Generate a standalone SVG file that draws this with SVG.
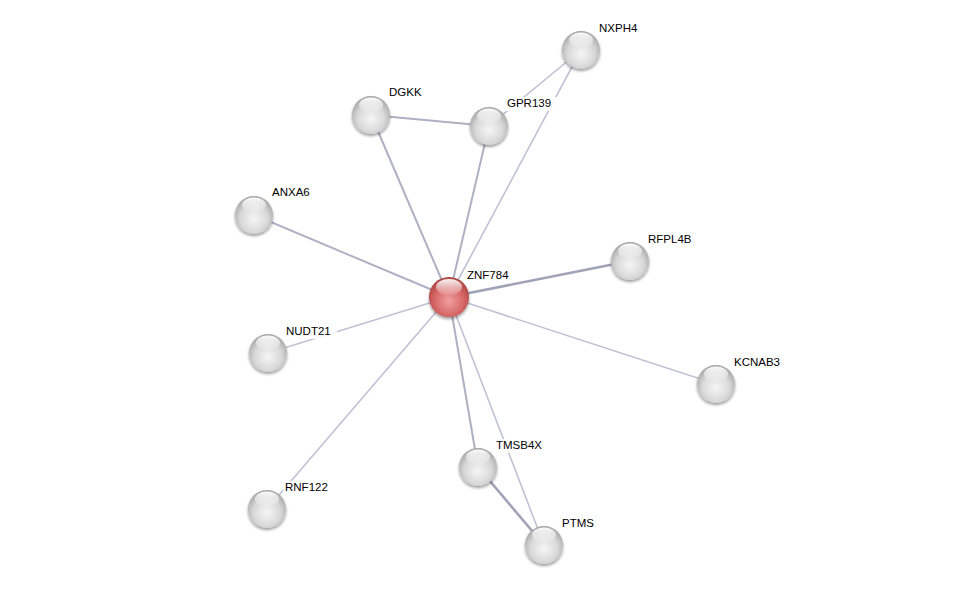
<svg xmlns="http://www.w3.org/2000/svg" width="975" height="591" viewBox="0 0 975 591">
<defs>
<radialGradient id="gGray" cx="0.5" cy="0.6" r="0.6">
<stop offset="0" stop-color="#f6f6f6"/>
<stop offset="0.6" stop-color="#d8d8d8"/>
<stop offset="1" stop-color="#a4a4a4"/>
</radialGradient>
<radialGradient id="gRed" cx="0.5" cy="0.6" r="0.6">
<stop offset="0" stop-color="#f0a0a0"/>
<stop offset="0.6" stop-color="#d86868"/>
<stop offset="1" stop-color="#a84040"/>
</radialGradient>
<linearGradient id="gHi" x1="0" y1="0" x2="0" y2="1">
<stop offset="0" stop-color="#ffffff" stop-opacity="0.95"/>
<stop offset="1" stop-color="#ffffff" stop-opacity="0.1"/>
</linearGradient>
<filter id="sh" x="-30%" y="-30%" width="160%" height="170%">
<feGaussianBlur in="SourceAlpha" stdDeviation="1.5"/>
<feOffset dx="0" dy="2" result="b"/>
<feComponentTransfer><feFuncA type="linear" slope="0.4"/></feComponentTransfer>
<feMerge><feMergeNode/><feMergeNode in="SourceGraphic"/></feMerge>
</filter>
</defs>
<style>
.e{stroke:#aeb0c4;stroke-width:2;fill:none}
.l{stroke:#bec2d4;stroke-width:1.6;fill:none}
.e2{stroke:#a0a2b8;stroke-width:2.6;fill:none}
.n{fill:url(#gGray);filter:url(#sh)}
.r{fill:url(#gRed);filter:url(#sh)}
.h{fill:url(#gHi)}
.bg{fill:#fff;fill-opacity:0.85}
text{font-family:"Liberation Sans",Arial,sans-serif;font-size:11.5px;fill:#000}
</style>
<rect width="975" height="591" fill="#fff"/>
<g id="edges">
<line class="e" x1="449" y1="297" x2="371" y2="115"/>
<line class="e" x1="449" y1="297" x2="489" y2="126"/>
<line class="l" x1="449" y1="297" x2="581" y2="50"/>
<line class="e" x1="449" y1="297" x2="254" y2="215"/>
<line class="e2" x1="449" y1="297" x2="630" y2="261"/>
<line class="l" x1="449" y1="297" x2="268" y2="353"/>
<line class="l" x1="449" y1="297" x2="716" y2="384"/>
<line class="e" x1="449" y1="297" x2="478" y2="467"/>
<line class="l" x1="449" y1="297" x2="544" y2="545"/>
<line class="l" x1="449" y1="297" x2="267" y2="509"/>
<line class="e" x1="371" y1="115" x2="489" y2="126"/>
<line class="l" x1="489" y1="126" x2="581" y2="50"/>
<line class="e2" x1="478" y1="467" x2="544" y2="545"/>
</g>
<g id="ZNF784"><circle class="r" cx="449" cy="297" r="20"/><ellipse class="h" cx="449" cy="287" rx="13" ry="8"/><rect class="bg" x="465" y="269" width="47" height="14"/><text x="467" y="279">ZNF784</text></g>
<g id="NXPH4"><circle class="n" cx="581" cy="50" r="19"/><ellipse class="h" cx="581" cy="40" rx="12" ry="7.5"/><rect class="bg" x="597" y="22" width="45" height="14"/><text x="599" y="32">NXPH4</text></g>
<g id="DGKK"><circle class="n" cx="371" cy="115" r="19"/><ellipse class="h" cx="371" cy="105" rx="12" ry="7.5"/><rect class="bg" x="387" y="86" width="40" height="14"/><text x="389" y="96">DGKK</text></g>
<g id="GPR139"><circle class="n" cx="489" cy="126" r="19"/><ellipse class="h" cx="489" cy="116" rx="12" ry="7.5"/><rect class="bg" x="505" y="97" width="52" height="14"/><text x="507" y="107">GPR139</text></g>
<g id="ANXA6"><circle class="n" cx="254" cy="215" r="19"/><ellipse class="h" cx="254" cy="205" rx="12" ry="7.5"/><rect class="bg" x="270" y="186" width="45" height="14"/><text x="272" y="196">ANXA6</text></g>
<g id="RFPL4B"><circle class="n" cx="630" cy="261" r="19"/><ellipse class="h" cx="630" cy="251" rx="12" ry="7.5"/><rect class="bg" x="646" y="233" width="52" height="14"/><text x="648" y="243">RFPL4B</text></g>
<g id="NUDT21"><circle class="n" cx="268" cy="353" r="19"/><ellipse class="h" cx="268" cy="343" rx="12" ry="7.5"/><rect class="bg" x="284" y="325" width="53" height="14"/><text x="286" y="335">NUDT21</text></g>
<g id="KCNAB3"><circle class="n" cx="716" cy="384" r="19"/><ellipse class="h" cx="716" cy="374" rx="12" ry="7.5"/><rect class="bg" x="732" y="356" width="55" height="14"/><text x="734" y="366">KCNAB3</text></g>
<g id="TMSB4X"><circle class="n" cx="478" cy="467" r="19"/><ellipse class="h" cx="478" cy="457" rx="12" ry="7.5"/><rect class="bg" x="494" y="439" width="55" height="14"/><text x="496" y="449">TMSB4X</text></g>
<g id="RNF122"><circle class="n" cx="267" cy="509" r="19"/><ellipse class="h" cx="267" cy="499" rx="12" ry="7.5"/><rect class="bg" x="283" y="481" width="50" height="14"/><text x="285" y="491">RNF122</text></g>
<g id="PTMS"><circle class="n" cx="544" cy="545" r="19"/><ellipse class="h" cx="544" cy="535" rx="12" ry="7.5"/><rect class="bg" x="560" y="517" width="40" height="14"/><text x="562" y="527">PTMS</text></g>
</svg>
